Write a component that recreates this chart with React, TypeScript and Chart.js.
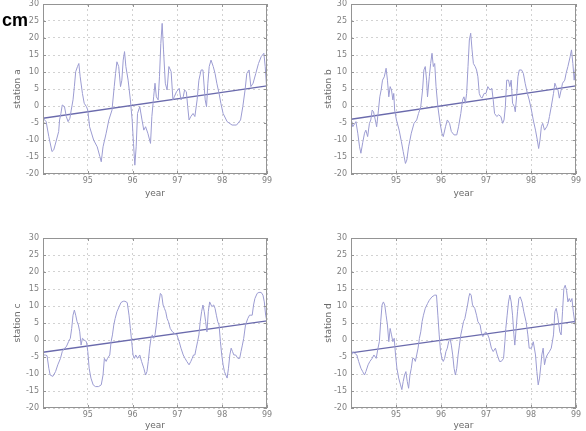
import { useEffect, useRef } from 'react';
import { Chart, registerables } from 'chart.js';

Chart.register(...registerables);

// Time axis runs over five years (two-digit years), sea level anomaly in cm.
const YEAR_START = 94;
const YEAR_END = 99;
const YEAR_TICKS = [94, 95, 96, 97, 98, 99];
const LEVEL_MIN = -20;
const LEVEL_MAX = 30;
const LEVEL_STEP = 5;

// [year, cm]
const stationA: [number, number][] = [
  [94.00,-3.6],[94.07,-4.6],[94.13,-9.0],[94.20,-13.4],[94.24,-12.9],[94.30,-10.0],[94.35,-7.5],[94.37,-4.1],
  [94.40,-2.2],[94.43,0.3],[94.48,-0.2],[94.52,-3.1],[94.56,-4.6],[94.60,-3.6],[94.63,-1.2],[94.67,1.8],
  [94.70,5.7],[94.73,10.1],[94.77,11.6],[94.80,12.5],[94.83,8.6],[94.88,3.7],[94.92,0.8],[94.97,-0.2],
  [95.00,-1.2],[95.04,-6.1],[95.13,-10.0],[95.21,-12.0],[95.27,-14.9],[95.30,-16.4],[95.34,-12.0],[95.41,-8.0],
  [95.47,-4.1],[95.54,-1.2],[95.59,5.7],[95.62,9.6],[95.65,13.0],[95.69,11.6],[95.73,5.7],[95.76,7.6],
  [95.79,13.5],[95.82,16.0],[95.85,11.6],[95.90,7.6],[95.95,1.8],[95.99,-4.1],[96.02,-11.0],[96.05,-17.4],
  [96.08,-12.0],[96.11,-2.2],[96.16,-0.2],[96.21,-4.1],[96.25,-7.1],[96.29,-6.1],[96.34,-8.0],[96.40,-11.0],
  [96.43,-3.1],[96.47,2.7],[96.50,6.7],[96.53,2.7],[96.57,1.8],[96.60,8.6],[96.63,18.4],[96.66,24.3],
  [96.69,16.5],[96.73,6.7],[96.77,4.7],[96.81,11.6],[96.86,10.1],[96.90,1.8],[96.93,2.7],[96.98,4.2],
  [97.04,5.2],[97.08,1.8],[97.13,2.7],[97.16,4.7],[97.20,4.2],[97.23,-0.2],[97.26,-4.1],[97.30,-3.1],
  [97.35,-2.2],[97.39,-3.1],[97.44,1.8],[97.48,7.6],[97.53,10.6],[97.57,10.6],[97.62,1.8],[97.65,-0.2],
  [97.68,6.7],[97.71,11.6],[97.75,13.5],[97.80,11.6],[97.84,9.6],[97.88,6.7],[97.93,3.7],[97.97,0.8],
  [98.02,-2.2],[98.11,-4.6],[98.22,-5.6],[98.32,-5.6],[98.41,-4.1],[98.46,-0.2],[98.51,4.7],[98.55,9.6],
  [98.60,10.6],[98.64,5.7],[98.69,6.7],[98.75,9.6],[98.81,12.5],[98.87,14.5],[98.93,15.5],[98.96,11.6],
  [98.99,5.7],[99.00,2.3],
];

const stationB: [number, number][] = [
  [94.00,-3.6],[94.04,-6.1],[94.11,-4.6],[94.15,-8.0],[94.19,-12.0],[94.22,-13.9],[94.26,-10.8],[94.30,-8.0],
  [94.33,-7.1],[94.37,-9.0],[94.41,-5.1],[94.44,-4.1],[94.47,-1.2],[94.50,-1.7],[94.54,-4.1],[94.57,-6.1],
  [94.61,-1.2],[94.64,2.7],[94.67,4.7],[94.70,7.6],[94.74,8.6],[94.78,11.1],[94.81,7.6],[94.84,2.7],
  [94.87,5.7],[94.90,4.7],[94.93,1.8],[94.95,3.7],[94.97,-1.2],[95.01,-4.1],[95.07,-7.1],[95.12,-10.5],
  [95.16,-13.4],[95.21,-16.9],[95.24,-15.9],[95.28,-12.0],[95.34,-8.0],[95.40,-5.1],[95.46,-4.1],[95.50,-2.2],
  [95.55,-0.2],[95.59,4.7],[95.62,10.6],[95.65,11.6],[95.68,7.6],[95.70,2.7],[95.74,8.6],[95.77,12.5],
  [95.80,15.5],[95.83,11.6],[95.86,12.5],[95.89,5.7],[95.93,-0.2],[95.98,-5.1],[96.02,-8.0],[96.05,-9.0],
  [96.10,-6.1],[96.14,-4.1],[96.19,-5.1],[96.23,-7.5],[96.29,-8.5],[96.35,-8.5],[96.39,-6.1],[96.44,-2.2],
  [96.48,1.8],[96.51,2.7],[96.54,0.8],[96.57,3.7],[96.60,11.6],[96.63,19.4],[96.66,21.4],[96.69,16.5],
  [96.72,12.5],[96.76,11.6],[96.79,10.6],[96.82,8.6],[96.85,3.7],[96.88,2.7],[96.91,2.3],[96.96,3.7],
  [97.00,3.7],[97.04,5.7],[97.09,4.7],[97.13,5.2],[97.16,1.8],[97.19,-2.2],[97.24,-3.1],[97.28,-2.6],
  [97.33,-3.1],[97.37,-5.1],[97.40,-4.1],[97.43,-0.2],[97.46,7.6],[97.50,7.6],[97.53,5.7],[97.56,7.6],
  [97.59,0.8],[97.63,-0.2],[97.65,-1.7],[97.68,2.7],[97.71,8.6],[97.74,10.6],[97.79,10.6],[97.83,9.6],
  [97.87,6.7],[97.92,3.7],[97.96,1.8],[98.01,-1.2],[98.05,-4.1],[98.10,-7.1],[98.14,-10.0],[98.17,-12.5],
  [98.20,-10.0],[98.23,-6.1],[98.26,-5.1],[98.30,-7.1],[98.35,-6.1],[98.38,-5.1],[98.41,-3.1],[98.45,-0.2],
  [98.50,3.7],[98.53,6.7],[98.56,5.7],[98.60,4.7],[98.63,2.3],[98.67,4.7],[98.70,6.7],[98.75,7.6],
  [98.78,9.6],[98.82,11.6],[98.87,14.5],[98.90,16.5],[98.93,12.5],[98.96,7.6],[98.99,11.6],[99.00,3.7],
];

const stationC: [number, number][] = [
  [94.00,-4.4],[94.05,-4.4],[94.09,-4.6],[94.13,-8.3],[94.16,-10.3],[94.22,-10.7],[94.28,-9.3],[94.33,-7.3],
  [94.39,-5.4],[94.43,-3.4],[94.48,-2.4],[94.52,-2.0],[94.57,-0.5],[94.61,0.5],[94.64,3.4],[94.67,7.3],
  [94.70,8.8],[94.73,7.3],[94.76,5.4],[94.79,4.4],[94.82,2.4],[94.85,-1.5],[94.88,0.5],[94.92,0.0],
  [94.97,-0.5],[95.00,-3.4],[95.03,-8.3],[95.07,-11.2],[95.12,-13.2],[95.17,-13.7],[95.24,-13.7],[95.30,-13.2],
  [95.34,-10.3],[95.37,-5.4],[95.41,-6.3],[95.44,-5.4],[95.49,-4.4],[95.52,-0.5],[95.55,1.5],[95.58,4.4],
  [95.61,6.3],[95.65,8.3],[95.70,9.8],[95.74,11.0],[95.79,11.4],[95.83,11.4],[95.88,11.0],[95.92,7.3],
  [95.95,3.4],[95.98,-0.5],[96.01,-4.4],[96.04,-5.4],[96.07,-4.4],[96.11,-5.4],[96.16,-4.4],[96.20,-6.3],
  [96.25,-8.3],[96.29,-10.3],[96.32,-9.3],[96.35,-6.3],[96.38,-2.4],[96.41,0.5],[96.44,1.5],[96.47,0.5],
  [96.50,1.5],[96.53,4.4],[96.56,8.3],[96.59,11.2],[96.62,13.7],[96.65,13.2],[96.68,10.3],[96.71,9.3],
  [96.74,8.3],[96.77,6.3],[96.80,5.4],[96.84,3.4],[96.89,2.4],[96.93,2.0],[96.99,1.5],[97.04,-0.5],
  [97.08,-2.4],[97.13,-4.4],[97.17,-5.4],[97.21,-6.3],[97.26,-7.3],[97.30,-6.3],[97.33,-5.4],[97.36,-4.4],
  [97.39,-4.4],[97.42,-2.4],[97.45,-0.5],[97.48,1.5],[97.51,5.4],[97.54,8.3],[97.57,10.3],[97.60,8.3],
  [97.63,5.4],[97.66,2.4],[97.69,8.3],[97.72,11.2],[97.77,9.8],[97.81,10.3],[97.84,9.3],[97.87,7.3],
  [97.90,5.4],[97.93,4.4],[97.96,-0.5],[97.99,-4.4],[98.02,-7.3],[98.05,-9.3],[98.08,-10.3],[98.11,-11.2],
  [98.14,-8.3],[98.17,-4.4],[98.20,-2.4],[98.23,-3.4],[98.26,-4.4],[98.30,-4.4],[98.35,-5.4],[98.39,-5.4],
  [98.42,-3.4],[98.45,-1.5],[98.48,0.5],[98.52,4.4],[98.57,6.3],[98.61,7.3],[98.64,7.3],[98.67,7.3],
  [98.70,10.3],[98.73,12.2],[98.78,13.7],[98.82,14.0],[98.87,14.0],[98.91,13.2],[98.94,11.2],[98.97,7.3],
  [99.00,5.4],
];

const stationD: [number, number][] = [
  [94.00,-4.9],[94.04,-3.4],[94.08,-3.9],[94.13,-4.4],[94.17,-6.3],[94.22,-8.3],[94.26,-9.3],[94.30,-10.3],
  [94.33,-9.3],[94.38,-7.3],[94.42,-6.3],[94.47,-5.4],[94.51,-4.4],[94.56,-5.4],[94.60,-2.4],[94.63,-0.5],
  [94.66,5.4],[94.69,10.3],[94.72,11.2],[94.75,10.3],[94.78,7.3],[94.81,4.4],[94.84,-0.5],[94.87,3.4],
  [94.90,1.5],[94.93,-0.5],[94.96,0.5],[94.99,-4.4],[95.02,-8.3],[95.06,-11.2],[95.10,-13.2],[95.13,-14.6],
  [95.16,-12.2],[95.19,-10.3],[95.22,-9.3],[95.25,-12.2],[95.28,-14.2],[95.31,-10.3],[95.34,-8.3],[95.37,-5.4],
  [95.40,-5.4],[95.43,-6.3],[95.46,-4.4],[95.49,-2.4],[95.52,0.5],[95.55,2.4],[95.58,5.4],[95.61,7.3],
  [95.65,9.3],[95.70,10.7],[95.74,11.7],[95.80,12.7],[95.86,13.2],[95.90,13.2],[95.93,7.3],[95.96,1.5],
  [95.99,-3.4],[96.02,-5.4],[96.05,-6.3],[96.08,-5.4],[96.11,-3.4],[96.14,-2.4],[96.17,-0.5],[96.20,0.5],
  [96.23,-1.5],[96.26,-4.4],[96.29,-8.3],[96.32,-10.3],[96.35,-8.3],[96.38,-4.4],[96.41,-1.5],[96.44,1.5],
  [96.47,3.4],[96.50,5.4],[96.53,6.3],[96.56,8.3],[96.59,10.3],[96.62,12.7],[96.64,13.7],[96.67,13.2],
  [96.70,10.3],[96.75,9.3],[96.79,7.3],[96.82,5.4],[96.87,4.4],[96.90,2.0],[96.93,1.0],[96.96,1.5],
  [96.99,2.4],[97.02,2.0],[97.04,1.5],[97.07,0.5],[97.12,-2.4],[97.16,-3.4],[97.21,-2.4],[97.25,-4.4],
  [97.30,-6.3],[97.34,-6.3],[97.39,-5.4],[97.42,-0.5],[97.44,3.4],[97.47,7.3],[97.50,11.2],[97.53,13.2],
  [97.56,11.2],[97.59,7.3],[97.62,1.5],[97.64,-1.5],[97.67,3.4],[97.70,8.3],[97.73,12.2],[97.76,12.7],
  [97.80,11.2],[97.84,8.3],[97.89,5.4],[97.93,1.5],[97.96,-2.4],[98.01,-2.4],[98.05,-0.5],[98.10,-4.4],
  [98.13,-9.3],[98.16,-13.2],[98.19,-11.2],[98.22,-7.3],[98.24,-4.4],[98.27,-2.4],[98.30,-7.3],[98.33,-5.4],
  [98.36,-4.4],[98.41,-3.4],[98.45,-2.4],[98.50,1.5],[98.53,8.3],[98.56,9.3],[98.59,7.3],[98.62,4.4],
  [98.64,2.4],[98.67,1.5],[98.70,8.3],[98.73,15.1],[98.76,16.1],[98.79,14.6],[98.82,11.2],[98.85,12.2],
  [98.88,11.2],[98.91,12.2],[98.94,8.3],[98.97,5.4],[99.00,3.4],
];

// Linear trend, cm at the first and the last year.
const trendA = [-3.6, 5.9];
const trendB = [-3.9, 5.9];
const trendC = [-3.6, 5.6];
const trendD = [-3.8, 5.5];

const DATA_COLOR = '#9c9cd2';
const TREND_COLOR = '#6a6aac';
const GRID_COLOR = '#d2d2d2';
const FRAME_COLOR = '#949494';
const TEXT_COLOR = '#808080';

const framePlugin = {
  id: 'frame',
  afterDatasetsDraw(chart: any) {
    const { ctx, chartArea: a, scales } = chart;
    ctx.save();
    ctx.strokeStyle = FRAME_COLOR;
    ctx.lineWidth = 1;
    ctx.strokeRect(Math.round(a.left) + 0.5, Math.round(a.top) + 0.5, Math.round(a.width) - 1, Math.round(a.height) - 1);
    ctx.beginPath();
    scales.x.ticks.forEach((t: any) => {
      const px = Math.round(scales.x.getPixelForValue(t.value)) + 0.5;
      ctx.moveTo(px, a.bottom); ctx.lineTo(px, a.bottom - 3);
      ctx.moveTo(px, a.top); ctx.lineTo(px, a.top + 3);
    });
    scales.y.ticks.forEach((t: any) => {
      const py = Math.round(scales.y.getPixelForValue(t.value)) + 0.5;
      ctx.moveTo(a.left, py); ctx.lineTo(a.left + 3, py);
      ctx.moveTo(a.right, py); ctx.lineTo(a.right - 3, py);
    });
    ctx.stroke();
    ctx.restore();
  },
};

type PanelProps = {
  name: string;
  series: [number, number][];
  trend: number[];
  left: number;
  top: number;
  height: number;
  axisWidth: number;
  padTop: number;
  padRight: number;
  axisHeight: number;
  titleOffset: number;
  yearPad: number;
};

function Panel(p: PanelProps) {
  const ref = useRef<HTMLCanvasElement>(null);
  useEffect(() => {
    if (!ref.current) return;
    const chart = new Chart(ref.current, {
      type: 'line',
      data: {
        datasets: [
          {
            data: p.series.map(([x, y]) => ({ x, y })),
            borderColor: DATA_COLOR,
            borderWidth: 1,
            pointRadius: 0,
            tension: 0,
          },
          {
            data: [
              { x: YEAR_START, y: p.trend[0] },
              { x: YEAR_END, y: p.trend[1] },
            ],
            borderColor: TREND_COLOR,
            borderWidth: 1.3,
            pointRadius: 0,
          },
        ],
      },
      options: {
        animation: false,
        responsive: false,
        maintainAspectRatio: false,
        events: [],
        layout: { padding: { left: 0, top: p.padTop, right: p.padRight, bottom: 0 } },
        plugins: { legend: { display: false }, tooltip: { enabled: false } },
        scales: {
          x: {
            type: 'linear',
            min: YEAR_START,
            max: YEAR_END,
            afterBuildTicks: (s: any) => {
              s.ticks = YEAR_TICKS.map((v) => ({ value: v }));
            },
            afterFit: (s: any) => {
              s.height = p.axisHeight;
            },
            ticks: {
              callback: (v: any) => (v === YEAR_START ? '' : String(v)),
              font: { family: 'DejaVu Sans', size: 8, lineHeight: 1 },
              color: TEXT_COLOR,
              padding: 3,
              maxRotation: 0,
            },
            grid: { color: GRID_COLOR, drawTicks: false, lineWidth: 1 },
            border: { display: false, dash: [2, 3] },
            title: {
              display: true,
              text: 'year',
              font: { family: 'DejaVu Sans', size: 9 },
              color: '#6a6a6a',
              padding: { top: 0, bottom: p.yearPad },
            },
          },
          y: {
            min: LEVEL_MIN,
            max: LEVEL_MAX,
            afterFit: (s: any) => {
              s.width = p.axisWidth;
            },
            ticks: {
              stepSize: LEVEL_STEP,
              font: { family: 'DejaVu Sans', size: 8, lineHeight: 1 },
              color: TEXT_COLOR,
              padding: 4,
            },
            grid: { color: GRID_COLOR, drawTicks: false, lineWidth: 1 },
            border: { display: false, dash: [2, 3] },
            title: {
              display: true,
              text: p.name,
              font: { family: 'DejaVu Sans', size: 9 },
              color: '#6a6a6a',
              padding: { top: p.titleOffset, bottom: 0 },
            },
          },
        },
      },
      plugins: [framePlugin],
    } as any);
    return () => chart.destroy();
  }, []);
  return (
    <canvas
      ref={ref}
      width={293}
      height={p.height}
      style={{ position: 'absolute', left: p.left, top: p.top, width: 293, height: p.height }}
    />
  );
}

export default function App() {
  return (
    <div style={{ position: 'fixed', left: 0, top: 0, width: 586, height: 431, background: '#ffffff', overflow: 'hidden' }}>
      <Panel name="station a" series={stationA} trend={trendA} left={0} top={-4} height={219}
        axisWidth={43} padTop={0} padRight={26} axisHeight={41} titleOffset={12} yearPad={16} />
      <Panel name="station b" series={stationB} trend={trendB} left={293} top={-4} height={219}
        axisWidth={58} padTop={0} padRight={10} axisHeight={41} titleOffset={30} yearPad={16} />
      <Panel name="station c" series={stationC} trend={trendC} left={0} top={215} height={216}
        axisWidth={43} padTop={23} padRight={26} axisHeight={23} titleOffset={12} yearPad={0} />
      <Panel name="station d" series={stationD} trend={trendD} left={293} top={215} height={216}
        axisWidth={58} padTop={23} padRight={10} axisHeight={23} titleOffset={30} yearPad={0} />
      <div
        style={{
          position: 'absolute', left: 2, top: 10, fontFamily: 'Liberation Sans', fontWeight: 'bold',
          fontSize: 18, lineHeight: '20px', color: '#000000',
        }}
      >
        cm
      </div>
    </div>
  );
}
